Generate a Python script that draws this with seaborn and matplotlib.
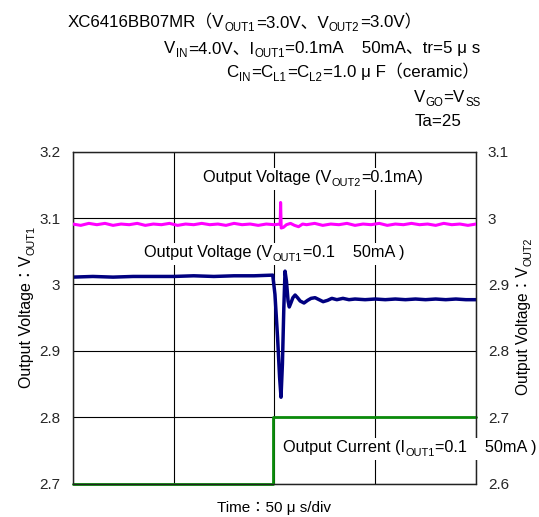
import matplotlib
matplotlib.use("Agg")
import matplotlib.pyplot as plt
import seaborn as sns
import pandas as pd
from matplotlib.transforms import IdentityTransform
from matplotlib.patches import Rectangle

# ---------------- data ----------------
time_vout1 = [0, 10, 20, 30, 40, 50, 60, 70, 80, 90,
              99.2, 100.3, 101.6, 102.6, 103.3, 104.0, 104.7, 105.3, 106.0, 106.8,
              107.4, 108.2, 109.2, 110.3, 111.5, 112.8, 114.7, 116.5, 118.2, 120.2,
              122.2, 124.2, 126.4, 128.5, 131, 134, 137, 140, 145, 150,
              155, 160, 165, 170, 175, 180, 185, 190, 195, 200]
vout1 = [3.011, 3.012, 3.011, 3.012, 3.012, 3.012, 3.013, 3.012, 3.013, 3.013,
         3.014, 2.985, 2.920, 2.860, 2.830, 2.880, 2.965, 3.020, 3.005, 2.975,
         2.966, 2.972, 2.980, 2.984, 2.980, 2.975, 2.972, 2.976, 2.979, 2.980,
         2.977, 2.974, 2.976, 2.979, 2.977, 2.979, 2.977, 2.978, 2.977, 2.978,
         2.977, 2.978, 2.977, 2.978, 2.977, 2.978, 2.977, 2.978, 2.977, 2.977]

time_vout2 = [0, 4, 8, 12, 16, 20, 24, 28, 32, 36, 40, 44, 48, 52, 56, 60, 64, 68, 72, 76,
              80, 84, 88, 92, 96, 100, 102.9, 103.1, 103.4, 104.5, 106, 108, 110, 112, 114,
              116, 120, 124, 128, 132, 136, 140, 144, 148, 152, 156, 160, 164, 168, 172,
              176, 180, 184, 188, 192, 196, 200]
vout2 = [2.991, 2.989, 2.992, 2.990, 2.992, 2.989, 2.991, 2.990, 2.992, 2.989,
         2.991, 2.990, 2.992, 2.989, 2.991, 2.990, 2.992, 2.990, 2.991, 2.989,
         2.992, 2.990, 2.991, 2.989, 2.991, 2.990, 2.991, 3.0235, 2.985, 2.986,
         2.990, 2.992, 2.989, 2.987, 2.991, 2.990, 2.992, 2.989, 2.991, 2.990,
         2.992, 2.989, 2.991, 2.990, 2.992, 2.989, 2.991, 2.990, 2.992, 2.990,
         2.991, 2.989, 2.992, 2.990, 2.991, 2.989, 2.991]

# output current step (drawn in divisions on the left scale: 0.1mA -> 50mA)
time_iout = [0, 99.5, 99.5, 200]
iout_level = [2.7, 2.7, 2.8, 2.8]

left_ticks = [2.7, 2.8, 2.9, 3.0, 3.1, 3.2]
left_ticklabels = ["2.7", "2.8", "2.9", "3", "3.1", "3.2"]
right_ticks = [2.6, 2.7, 2.8, 2.9, 3.0, 3.1]
right_ticklabels = ["2.6", "2.7", "2.8", "2.9", "3", "3.1"]
time_grid = [0, 50, 100, 150, 200]

# ---------------- style ----------------
sns.set_style("white")
FAM = ["Liberation Sans", "Noto Sans CJK JP", "DejaVu Sans"]
plt.rcParams["font.family"] = FAM

W, H, DPI = 539, 517, 100
fig = plt.figure(figsize=(W / DPI, H / DPI), dpi=DPI)
L, R, T, B = 72.7, 476.0, 151.7, 483.5
ax = fig.add_axes([L / W, 1 - B / H, (R - L) / W, (B - T) / H])

df1 = pd.DataFrame({"time": time_vout1, "v": vout1})
df2 = pd.DataFrame({"time": time_vout2, "v": vout2})
df3 = pd.DataFrame({"time": time_iout, "v": iout_level})

sns.lineplot(data=df1, x="time", y="v", ax=ax, color="#000080", linewidth=2.5,
             sort=False, estimator=None, legend=False, zorder=4)
sns.lineplot(data=df3, x="time", y="v", ax=ax, color="#0a8a0a", linewidth=2.0,
             sort=False, estimator=None, legend=False, zorder=4, clip_on=False)

ax.set_xlim(0, 200)
ax.set_ylim(2.7, 3.2)
ax.set_xticks(time_grid)
ax.set_xticklabels([])
ax.set_yticks(left_ticks)
ax.set_yticklabels(left_ticklabels)
ax.grid(True, color="black", linewidth=0.8)
ax.tick_params(length=0, labelsize=11, pad=9)
ax.set_xlabel("")
ax.set_ylabel("")
for s in ax.spines.values():
    s.set_color("#222222")
    s.set_linewidth(0.9)

ax2 = ax.twinx()
sns.lineplot(data=df2, x="time", y="v", ax=ax2, color="#ff00ff", linewidth=2.2,
             sort=False, estimator=None, legend=False, zorder=4)
ax2.set_ylim(2.6, 3.1)
ax2.set_yticks(right_ticks)
ax2.set_yticklabels(right_ticklabels)
ax2.tick_params(length=0, labelsize=11, pad=8.5)
ax2.grid(False)
ax2.set_xlabel("")
ax2.set_ylabel("")
for s in ax2.spines.values():
    s.set_color("#222222")
    s.set_linewidth(0.9)

renderer = fig.canvas.get_renderer()


def rich(x, y, segs, size, ha="left", rotation=0, box=False,
         sub_scale=0.68, sub_drop=0.22):
    """x, y in pixels from top-left; y is the baseline."""
    pieces = []
    pos = 0.0
    for s, sub in segs:
        fs = size * sub_scale if sub else size
        t = fig.text(0, 0, s, fontsize=fs, family=FAM, transform=IdentityTransform(),
                     rotation=rotation, rotation_mode="anchor", ha="left",
                     va="baseline", zorder=6, color="black")
        bb = t.get_window_extent(renderer)
        adv = bb.height if rotation else bb.width
        pieces.append((t, pos, sub))
        pos += adv + (0.6 if sub else 0.3)
    total = pos
    start = {"left": 0.0, "center": -total / 2, "right": -total}[ha]
    drop = size * DPI / 72 * sub_drop
    for t, p, sub in pieces:
        d = drop if sub else 0.0
        if rotation == 0:
            t.set_position((x + start + p, H - y - d))
        else:
            t.set_position((x + d, H - y + start + p))
    if box:
        x0 = min(t.get_window_extent(renderer).x0 for t, _, _ in pieces)
        x1 = max(t.get_window_extent(renderer).x1 for t, _, _ in pieces)
        y0 = min(t.get_window_extent(renderer).y0 for t, _, _ in pieces)
        y1 = max(t.get_window_extent(renderer).y1 for t, _, _ in pieces)
        fig.add_artist(Rectangle((x0 - 3, y0 - 2), x1 - x0 + 6, y1 - y0 + 4,
                                 transform=IdentityTransform(), facecolor="white",
                                 edgecolor="none", zorder=5))


# header
HS = 12.2
rich(68, 27, [("XC6416BB07MR（V", 0), ("OUT1", 1), ("=3.0V、V", 0), ("OUT2", 1),
              ("=3.0V）", 0)], HS)
rich(481, 53, [("V", 0), ("IN", 1), ("=4.0V、I", 0), ("OUT1", 1),
               ("=0.1mA    50mA、tr=5 μ s", 0)], HS, ha="right")
rich(479, 77, [("C", 0), ("IN", 1), ("=C", 0), ("L1", 1), ("=C", 0), ("L2", 1),
               ("=1.0 μ F（ceramic）", 0)], HS, ha="right")
rich(481, 102, [("V", 0), ("GO", 1), ("=V", 0), ("SS", 1)], HS, ha="right")
rich(415, 126, [("Ta=25", 0)], HS)

# in-plot labels
IS = 11.7
rich(203, 182, [("Output Voltage (V", 0), ("OUT2", 1), ("=0.1mA)", 0)], IS, box=True)
rich(144, 257, [("Output Voltage (V", 0), ("OUT1", 1), ("=0.1    50mA )", 0)], IS, box=True)
rich(283, 452, [("Output Current (I", 0), ("OUT1", 1), ("=0.1    50mA )", 0)], IS, box=True)

# axis labels
rich(31, 307, [("Output Voltage：V", 0), ("OUT1", 1)], 11.5, ha="center", rotation=90)
rich(528, 316, [("Output Voltage：V", 0), ("OUT2", 1)], 11.2, ha="center", rotation=90)
rich(274, 512, [("Time：50 μ s/div", 0)], 11, ha="center")

fig.savefig("out.png", dpi=DPI)
